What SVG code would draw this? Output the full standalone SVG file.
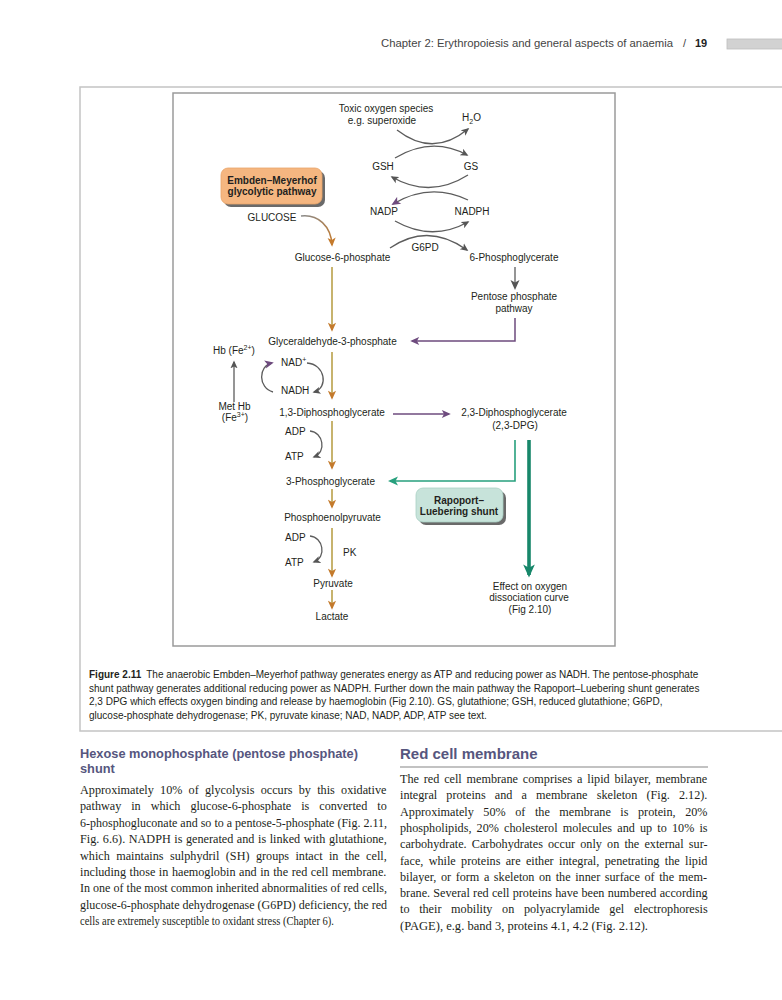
<svg xmlns="http://www.w3.org/2000/svg" width="782" height="1000" viewBox="0 0 782 1000">
<style>
.t{font-family:"Liberation Sans",Arial,sans-serif;font-size:10px;fill:#231f20}
.b{font-weight:bold}
.c{text-anchor:middle}
.body{font-family:"Liberation Serif","Times New Roman",serif;font-size:12.2px;fill:#231f20}
.h{font-family:"Liberation Sans",Arial,sans-serif;font-weight:bold;fill:#56567e}
.gl{stroke:#b9a04a;stroke-width:1.6;fill:none}
.gr{stroke:#5c5c5c;stroke-width:1.3;fill:none}
.pu{stroke:#6e4b7e;stroke-width:1.5;fill:none}
.gn{stroke:#27a07d;stroke-width:1.6;fill:none}
.gnb{stroke:#17876a;stroke-width:3.6;fill:none}
.frame{stroke:#c4c4c4;stroke-width:1.5;fill:none}
</style>
<defs>
<marker id="aOr" viewBox="0 0 10 10" refX="8" refY="5" markerWidth="10" markerHeight="9" markerUnits="userSpaceOnUse" orient="auto"><path d="M0,0.5 L10,5 L0,9.5 L2.5,5 z" fill="#c47a2c"/></marker>
<marker id="aGr" viewBox="0 0 10 10" refX="8" refY="5" markerWidth="8" markerHeight="8" markerUnits="userSpaceOnUse" orient="auto"><path d="M0,0.5 L10,5 L0,9.5 L2.5,5 z" fill="#555"/></marker>
<marker id="aGrL" viewBox="0 0 10 10" refX="8" refY="5" markerWidth="10" markerHeight="10" markerUnits="userSpaceOnUse" orient="auto"><path d="M0,0.5 L10,5 L0,9.5 L2.5,5 z" fill="#555"/></marker>
<marker id="aPu" viewBox="0 0 10 10" refX="8" refY="5" markerWidth="10" markerHeight="9" markerUnits="userSpaceOnUse" orient="auto"><path d="M0,0.5 L10,5 L0,9.5 L2.5,5 z" fill="#6e4b7e"/></marker>
<marker id="aGn" viewBox="0 0 10 10" refX="8" refY="5" markerWidth="11" markerHeight="10" markerUnits="userSpaceOnUse" orient="auto"><path d="M0,0.5 L10,5 L0,9.5 L2.5,5 z" fill="#27a07d"/></marker>
<marker id="aGnB" viewBox="0 0 10 10" refX="8" refY="5" markerWidth="15" markerHeight="13" markerUnits="userSpaceOnUse" orient="auto"><path d="M0,0.5 L10,5 L0,9.5 L2.5,5 z" fill="#17876a"/></marker>
<linearGradient id="gGlu" x1="0" y1="0" x2="1" y2="1"><stop offset="0" stop-color="#8a8a8a"/><stop offset="1" stop-color="#c47a2c"/></linearGradient>
</defs>

<!-- page header -->
<g id="header">
<text class="t" x="381" y="47" style="font-size:11px;fill:#444" textLength="292" lengthAdjust="spacingAndGlyphs">Chapter 2: Erythropoiesis and general aspects of anaemia</text>
<text class="t" x="683" y="47" style="font-size:11px;fill:#444">/</text>
<text class="t b" x="695" y="47" style="font-size:11px;fill:#222">19</text>
<rect x="727" y="39" width="56" height="10" fill="#d2d2d2" stroke="#bdbdbd" stroke-width="0.8"/>
</g>

<!-- figure frame -->
<g id="figure-frame">
<path class="frame" d="M782,87 H80 V731 H782"/>
<rect x="173" y="93" width="442" height="553" fill="#fff" stroke="#9a9a9a" stroke-width="1.5"/>
</g>

<!-- connectors -->
<g id="connectors">
<path class="gr" d="M397,130 Q433,158 468,129" marker-end="url(#aGr)"/>
<path class="gr" d="M395,158 Q432,136 467,155" marker-end="url(#aGr)"/>
<path class="gr" d="M468,175 Q430,199 392,177" marker-end="url(#aGr)"/>
<path class="gr" d="M468,200 Q430,182 393,204" marker-end="url(#aPu)"/>
<path class="gr" d="M395,221 Q432,242 468,222" marker-end="url(#aGr)"/>
<path class="gr" d="M390,248 Q428,222 467,250" marker-end="url(#aGr)"/>
<path d="M301,216 C318,214 331,226 332,245" fill="none" stroke="url(#gGlu)" stroke-width="1.5" marker-end="url(#aOr)"/>
<path class="gl" d="M332,267 V330" marker-end="url(#aOr)"/>
<path class="gl" d="M332,352 V398" marker-end="url(#aOr)"/>
<path class="gl" d="M332,421 V468" marker-end="url(#aOr)"/>
<path class="gl" d="M332,489 V507" marker-end="url(#aOr)"/>
<path class="gl" d="M332,528 V576" marker-end="url(#aOr)"/>
<path class="gl" d="M332,590 V608" marker-end="url(#aOr)"/>
<path class="gr" d="M515,267 V288" stroke-width="1.6" marker-end="url(#aGrL)"/>
<path class="pu" d="M515,318 V341 H412" marker-end="url(#aPu)"/>
<path class="pu" d="M393,414 H449" marker-end="url(#aPu)"/>
<path class="gr" d="M234,402 V362" marker-end="url(#aGr)"/>
<path class="gr" d="M307,363 C325,364 329,388 314,392" marker-end="url(#aGr)"/>
<path class="gr" d="M273,392 C258,388 258,366 272,363" marker-end="url(#aPu)"/>
<path class="gr" d="M310,431 C323,432 327,452 314,457" marker-end="url(#aGr)"/>
<path class="gr" d="M310,536 C323,537 327,557 314,562" marker-end="url(#aGr)"/>
<path class="gn" d="M515,440 V481 H390" marker-end="url(#aGn)"/>
<path class="gnb" d="M529,440 V575" marker-end="url(#aGnB)"/>
</g>

<!-- nodes -->
<g id="toxic"><text class="t c" x="386" y="112">Toxic oxygen species</text><text class="t c" x="382" y="124">e.g. superoxide</text></g>
<g id="h2o"><text class="t" x="462" y="121">H<tspan dy="3" style="font-size:7px">2</tspan><tspan dy="-3">O</tspan></text></g>
<g id="gsh"><text class="t c" x="383" y="170">GSH</text></g>
<g id="gs"><text class="t c" x="471" y="170">GS</text></g>
<g id="nadp"><text class="t c" x="384" y="215">NADP</text></g>
<g id="nadph"><text class="t c" x="472" y="215">NADPH</text></g>
<g id="g6pd"><text class="t c" x="425" y="251">G6PD</text></g>
<g id="embden">
<rect x="224" y="171" width="101" height="36" rx="7" fill="#6a6a6a"/>
<rect x="221" y="168" width="101" height="36" rx="7" fill="#f5b680" stroke="#e8a46a" stroke-width="0.8"/>
<text class="t b c" x="272" y="183.5">Embden–Meyerhof</text>
<text class="t b c" x="272" y="195">glycolytic pathway</text>
</g>
<g id="glucose"><text class="t c" x="272" y="221">GLUCOSE</text></g>
<g id="glucose6p"><text class="t c" x="342.5" y="260.5">Glucose-6-phosphate</text></g>
<g id="phosphoglycerate6"><text class="t c" x="514" y="260.5">6-Phosphoglycerate</text></g>
<g id="pentose"><text class="t c" x="514" y="299.5">Pentose phosphate</text><text class="t c" x="514" y="311.5">pathway</text></g>
<g id="glyceraldehyde"><text class="t c" x="332.5" y="344.5">Glyceraldehyde-3-phosphate</text></g>
<g id="hb"><text class="t" x="213" y="354">Hb (Fe<tspan dy="-4" style="font-size:7px">2+</tspan><tspan dy="4">)</tspan></text></g>
<g id="methb"><text class="t c" x="234.5" y="409.5">Met Hb</text><text class="t c" x="235" y="420.5">(Fe<tspan dy="-4" style="font-size:7px">3+</tspan><tspan dy="4">)</tspan></text></g>
<g id="nad"><text class="t" x="281" y="366">NAD<tspan dy="-4" style="font-size:7px">+</tspan></text></g>
<g id="nadh"><text class="t" x="281" y="394">NADH</text></g>
<g id="dpg13"><text class="t c" x="332" y="415.5">1,3-Diphosphoglycerate</text></g>
<g id="dpg23"><text class="t c" x="514" y="416">2,3-Diphosphoglycerate</text><text class="t c" x="515" y="428.5">(2,3-DPG)</text></g>
<g id="adp1"><text class="t" x="285" y="435">ADP</text></g>
<g id="atp1"><text class="t" x="285" y="460">ATP</text></g>
<g id="pg3"><text class="t c" x="330.5" y="484.5">3-Phosphoglycerate</text></g>
<g id="rapoport">
<rect x="419" y="491" width="87" height="34" rx="7" fill="#6a6a6a"/>
<rect x="416" y="488" width="87" height="34" rx="7" fill="#c7e3da" stroke="#a9d0c4" stroke-width="0.8"/>
<text class="t b c" x="459" y="503.5">Rapoport–</text>
<text class="t b c" x="459" y="514.5">Luebering shunt</text>
</g>
<g id="pep"><text class="t c" x="332.5" y="521">Phosphoenolpyruvate</text></g>
<g id="adp2"><text class="t" x="285" y="540.5">ADP</text></g>
<g id="atp2"><text class="t" x="285" y="566">ATP</text></g>
<g id="pk"><text class="t" x="343" y="556">PK</text></g>
<g id="pyruvate"><text class="t c" x="333" y="586.5">Pyruvate</text></g>
<g id="lactate"><text class="t c" x="332" y="620">Lactate</text></g>
<g id="effect"><text class="t c" x="530" y="589.5">Effect on oxygen</text><text class="t c" x="529" y="601">dissociation curve</text><text class="t c" x="530" y="612.5">(Fig 2.10)</text></g>

<!-- caption -->
<g id="caption">
<text class="t" x="89" y="678"><tspan class="b">Figure 2.11</tspan><tspan dx="5">The anaerobic Embden–Meyerhof pathway generates energy as ATP and reducing power as NADH. The pentose-phosphate</tspan></text>
<text class="t" x="89" y="691.5">shunt pathway generates additional reducing power as NADPH. Further down the main pathway the Rapoport–Luebering shunt generates</text>
<text class="t" x="89" y="705">2,3 DPG which effects oxygen binding and release by haemoglobin (Fig 2.10). GS, glutathione; GSH, reduced glutathione; G6PD,</text>
<text class="t" x="89" y="718.5">glucose-phosphate dehydrogenase; PK, pyruvate kinase; NAD, NADP, ADP, ATP see text.</text>
</g>

<!-- left column -->
<g id="left-column">
<text class="h" x="80" y="758" style="font-size:12.8px">Hexose monophosphate (pentose phosphate)</text>
<text class="h" x="80" y="773" style="font-size:12.8px">shunt</text>
<text class="body" x="80" y="794" style="word-spacing:3.2px">Approximately 10% of glycolysis occurs by this oxidative</text>
<text class="body" x="80" y="810.4" style="word-spacing:6.9px">pathway in which glucose-6-phosphate is converted to</text>
<text class="body" x="80" y="826.8" textLength="307" lengthAdjust="spacingAndGlyphs">6-phosphogluconate and so to a pentose-5-phosphate (Fig. 2.11,</text>
<text class="body" x="80" y="843.2" style="word-spacing:0.5px">Fig. 6.6). NADPH is generated and is linked with glutathione,</text>
<text class="body" x="80" y="859.6" style="word-spacing:3.35px">which maintains sulphydril (SH) groups intact in the cell,</text>
<text class="body" x="80" y="876" style="word-spacing:0.5px">including those in haemoglobin and in the red cell membrane.</text>
<text class="body" x="80" y="892.4" textLength="307" lengthAdjust="spacingAndGlyphs">In one of the most common inherited abnormalities of red cells,</text>
<text class="body" x="80" y="908.8" textLength="307" lengthAdjust="spacingAndGlyphs">glucose-6-phosphate dehydrogenase (G6PD) deficiency, the red</text>
<text class="body" x="80" y="925.2" textLength="254" lengthAdjust="spacingAndGlyphs">cells are extremely susceptible to oxidant stress (Chapter 6).</text>
</g>

<!-- right column -->
<g id="right-column">
<text class="h" x="400" y="759" style="font-size:15px">Red cell membrane</text>
<line x1="400" y1="767" x2="708" y2="767" stroke="#c2c2c2" stroke-width="2"/>
<text class="body" x="400" y="783" style="word-spacing:1.78px">The red cell membrane comprises a lipid bilayer, membrane</text>
<text class="body" x="400" y="799.3" style="word-spacing:6.1px">integral proteins and a membrane skeleton (Fig. 2.12).</text>
<text class="body" x="400" y="815.6" style="word-spacing:6.5px">Approximately 50% of the membrane is protein, 20%</text>
<text class="body" x="400" y="831.9" style="word-spacing:2.1px">phospholipids, 20% cholesterol molecules and up to 10% is</text>
<text class="body" x="400" y="848.2" style="word-spacing:2.1px">carbohydrate. Carbohydrates occur only on the external sur-</text>
<text class="body" x="400" y="864.5" style="word-spacing:2.3px">face, while proteins are either integral, penetrating the lipid</text>
<text class="body" x="400" y="880.8" style="word-spacing:1.5px">bilayer, or form a skeleton on the inner surface of the mem-</text>
<text class="body" x="400" y="897.1" style="word-spacing:0.18px">brane. Several red cell proteins have been numbered according</text>
<text class="body" x="400" y="913.4" style="word-spacing:6.6px">to their mobility on polyacrylamide gel electrophoresis</text>
<text class="body" x="400" y="929.7" textLength="248" lengthAdjust="spacingAndGlyphs">(PAGE), e.g. band 3, proteins 4.1, 4.2 (Fig. 2.12).</text>
</g>
</svg>
